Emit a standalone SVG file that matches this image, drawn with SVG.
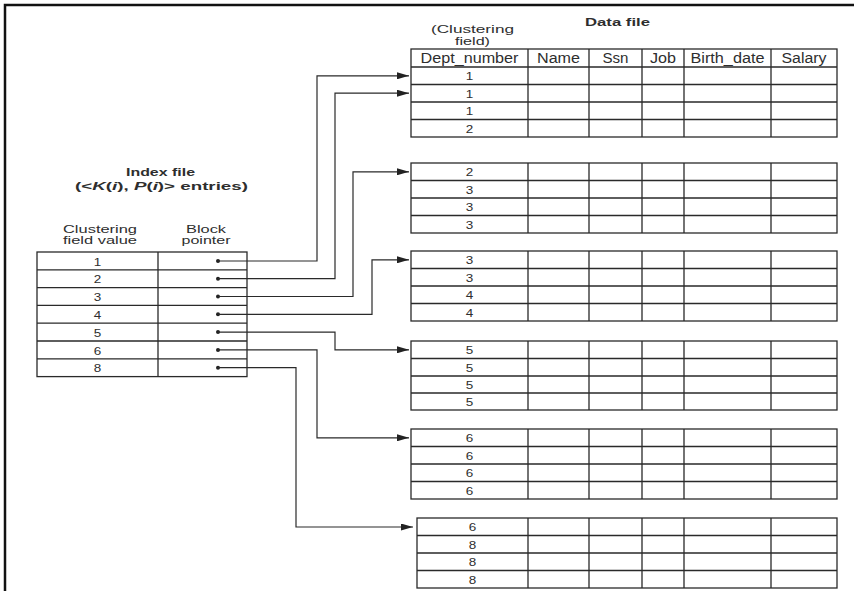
<svg xmlns="http://www.w3.org/2000/svg" width="854" height="591" viewBox="0 0 854 591">
<style>
  .frame{fill:none;stroke:#111;stroke-width:2.5}
  .tbl{fill:none;stroke:#2a2a2a;stroke-width:1.3}
  .conn{fill:none;stroke:#2a2a2a;stroke-width:1.2}
  .t{font-family:"Liberation Sans",Arial,sans-serif;fill:#2e2e2e;text-anchor:middle}
  .b{font-weight:bold;font-size:11.5px}
  .h{font-size:14px}
  .s{font-size:11.5px}
  .d{font-size:11px}
  .dot{fill:#222}
</style>
<defs>
  <marker id="arr" markerUnits="userSpaceOnUse" markerWidth="12" markerHeight="7" refX="12" refY="3.5" orient="auto">
    <path d="M0,0 L12,3.5 L0,7 z" fill="#222"/>
  </marker>
</defs>
<rect width="854" height="591" fill="#fff"/>
<path class="frame" d="M5,591 V5 H854"/>

<g id="titles">
  <text class="t b" x="617.5" y="26" textLength="65" lengthAdjust="spacingAndGlyphs">Data file</text>
  <text class="t s" x="472.5" y="33" textLength="83" lengthAdjust="spacingAndGlyphs">(Clustering</text>
  <text class="t s" x="472.5" y="45" textLength="35" lengthAdjust="spacingAndGlyphs">field)</text>
  <text class="t b" x="160.5" y="176" textLength="69" lengthAdjust="spacingAndGlyphs">Index file</text>
  <text class="t b" x="161.5" y="189.5" textLength="173" lengthAdjust="spacingAndGlyphs">(&lt;<tspan font-style="italic">K</tspan>(<tspan font-style="italic">i</tspan>), <tspan font-style="italic">P</tspan>(<tspan font-style="italic">i</tspan>)&gt; entries)</text>
</g>

<g id="index-file">
  <text class="t s" x="100" y="233" textLength="74" lengthAdjust="spacingAndGlyphs">Clustering</text>
  <text class="t s" x="100" y="243.5" textLength="74" lengthAdjust="spacingAndGlyphs">field value</text>
  <text class="t s" x="206" y="233" textLength="40" lengthAdjust="spacingAndGlyphs">Block</text>
  <text class="t s" x="206" y="243.5" textLength="49" lengthAdjust="spacingAndGlyphs">pointer</text>
  <rect class="tbl" x="37" y="252" width="210" height="124.6"/>
  <path class="tbl" d="M37,269.8H247 M37,287.6H247 M37,305.4H247 M37,323.2H247 M37,341H247 M37,358.8H247 M158,252V376.6"/>
  <g class="t d">
    <text x="97.5" y="265.5" textLength="7.5" lengthAdjust="spacingAndGlyphs">1</text>
    <text x="97.5" y="283.3" textLength="7.5" lengthAdjust="spacingAndGlyphs">2</text>
    <text x="97.5" y="301.1" textLength="7.5" lengthAdjust="spacingAndGlyphs">3</text>
    <text x="97.5" y="318.9" textLength="7.5" lengthAdjust="spacingAndGlyphs">4</text>
    <text x="97.5" y="336.7" textLength="7.5" lengthAdjust="spacingAndGlyphs">5</text>
    <text x="97.5" y="354.5" textLength="7.5" lengthAdjust="spacingAndGlyphs">6</text>
    <text x="97.5" y="372.3" textLength="7.5" lengthAdjust="spacingAndGlyphs">8</text>
  </g>
  <g class="dot">
    <circle cx="218" cy="261" r="2"/>
    <circle cx="218" cy="278.7" r="2"/>
    <circle cx="218" cy="296.5" r="2"/>
    <circle cx="218" cy="314.3" r="2"/>
    <circle cx="218" cy="332.1" r="2"/>
    <circle cx="218" cy="349.9" r="2"/>
    <circle cx="218" cy="367.7" r="2"/>
  </g>
</g>

<g id="block1">
  <rect class="tbl" x="411" y="49" width="426" height="88"/>
  <path class="tbl" d="M411,67H837 M411,84.5H837 M411,102H837 M411,119.5H837 M528,49V137 M589,49V137 M642,49V137 M684,49V137 M771,49V137"/>
  <g class="t h">
    <text x="469.5" y="62.5" textLength="98" lengthAdjust="spacingAndGlyphs">Dept_number</text>
    <text x="558.5" y="62.5" textLength="43" lengthAdjust="spacingAndGlyphs">Name</text>
    <text x="615.5" y="62.5" textLength="26" lengthAdjust="spacingAndGlyphs">Ssn</text>
    <text x="663" y="62.5" textLength="26" lengthAdjust="spacingAndGlyphs">Job</text>
    <text x="727.5" y="62.5" textLength="74" lengthAdjust="spacingAndGlyphs">Birth_date</text>
    <text x="804" y="62.5" textLength="45" lengthAdjust="spacingAndGlyphs">Salary</text>
  </g>
  <g class="t d">
    <text x="469.5" y="80" textLength="7.5" lengthAdjust="spacingAndGlyphs">1</text>
    <text x="469.5" y="97.5" textLength="7.5" lengthAdjust="spacingAndGlyphs">1</text>
    <text x="469.5" y="115" textLength="7.5" lengthAdjust="spacingAndGlyphs">1</text>
    <text x="469.5" y="132.5" textLength="7.5" lengthAdjust="spacingAndGlyphs">2</text>
  </g>
</g>

<g id="block2">
  <rect class="tbl" x="411" y="163" width="426" height="70"/>
  <path class="tbl" d="M411,180.5H837 M411,198H837 M411,215.5H837 M528,163V233 M589,163V233 M642,163V233 M684,163V233 M771,163V233"/>
  <g class="t d">
    <text x="469.5" y="176" textLength="7.5" lengthAdjust="spacingAndGlyphs">2</text>
    <text x="469.5" y="193.5" textLength="7.5" lengthAdjust="spacingAndGlyphs">3</text>
    <text x="469.5" y="211" textLength="7.5" lengthAdjust="spacingAndGlyphs">3</text>
    <text x="469.5" y="228.5" textLength="7.5" lengthAdjust="spacingAndGlyphs">3</text>
  </g>
</g>

<g id="block3">
  <rect class="tbl" x="411" y="251" width="426" height="70"/>
  <path class="tbl" d="M411,268.5H837 M411,286H837 M411,303.5H837 M528,251V321 M589,251V321 M642,251V321 M684,251V321 M771,251V321"/>
  <g class="t d">
    <text x="469.5" y="264" textLength="7.5" lengthAdjust="spacingAndGlyphs">3</text>
    <text x="469.5" y="281.5" textLength="7.5" lengthAdjust="spacingAndGlyphs">3</text>
    <text x="469.5" y="299" textLength="7.5" lengthAdjust="spacingAndGlyphs">4</text>
    <text x="469.5" y="316.5" textLength="7.5" lengthAdjust="spacingAndGlyphs">4</text>
  </g>
</g>

<g id="block4">
  <rect class="tbl" x="411" y="341" width="426" height="69"/>
  <path class="tbl" d="M411,358.5H837 M411,376H837 M411,393H837 M528,341V410 M589,341V410 M642,341V410 M684,341V410 M771,341V410"/>
  <g class="t d">
    <text x="469.5" y="354" textLength="7.5" lengthAdjust="spacingAndGlyphs">5</text>
    <text x="469.5" y="371.5" textLength="7.5" lengthAdjust="spacingAndGlyphs">5</text>
    <text x="469.5" y="389" textLength="7.5" lengthAdjust="spacingAndGlyphs">5</text>
    <text x="469.5" y="406" textLength="7.5" lengthAdjust="spacingAndGlyphs">5</text>
  </g>
</g>

<g id="block5">
  <rect class="tbl" x="411" y="429" width="426" height="70"/>
  <path class="tbl" d="M411,446.5H837 M411,464H837 M411,481.5H837 M528,429V499 M589,429V499 M642,429V499 M684,429V499 M771,429V499"/>
  <g class="t d">
    <text x="469.5" y="442" textLength="7.5" lengthAdjust="spacingAndGlyphs">6</text>
    <text x="469.5" y="459.5" textLength="7.5" lengthAdjust="spacingAndGlyphs">6</text>
    <text x="469.5" y="477" textLength="7.5" lengthAdjust="spacingAndGlyphs">6</text>
    <text x="469.5" y="494.5" textLength="7.5" lengthAdjust="spacingAndGlyphs">6</text>
  </g>
</g>

<g id="block6">
  <rect class="tbl" x="417" y="518" width="420" height="70"/>
  <path class="tbl" d="M417,535.5H837 M417,553H837 M417,570.5H837 M528,518V588 M589,518V588 M642,518V588 M684,518V588 M771,518V588"/>
  <g class="t d">
    <text x="472.5" y="531" textLength="7.5" lengthAdjust="spacingAndGlyphs">6</text>
    <text x="472.5" y="548.5" textLength="7.5" lengthAdjust="spacingAndGlyphs">8</text>
    <text x="472.5" y="566" textLength="7.5" lengthAdjust="spacingAndGlyphs">8</text>
    <text x="472.5" y="583.5" textLength="7.5" lengthAdjust="spacingAndGlyphs">8</text>
  </g>
</g>

<g id="connectors" class="conn">
  <path d="M218,261 H317 V75.8 H409" marker-end="url(#arr)"/>
  <path d="M218,278.7 H335 V93.2 H409" marker-end="url(#arr)"/>
  <path d="M218,296.5 H353 V171.8 H409" marker-end="url(#arr)"/>
  <path d="M218,314.3 H372 V259.8 H409" marker-end="url(#arr)"/>
  <path d="M218,332.1 H335 V349.8 H409" marker-end="url(#arr)"/>
  <path d="M218,349.9 H317 V437.8 H409" marker-end="url(#arr)"/>
  <path d="M218,367.7 H296 V527 H413" marker-end="url(#arr)"/>
</g>
</svg>
